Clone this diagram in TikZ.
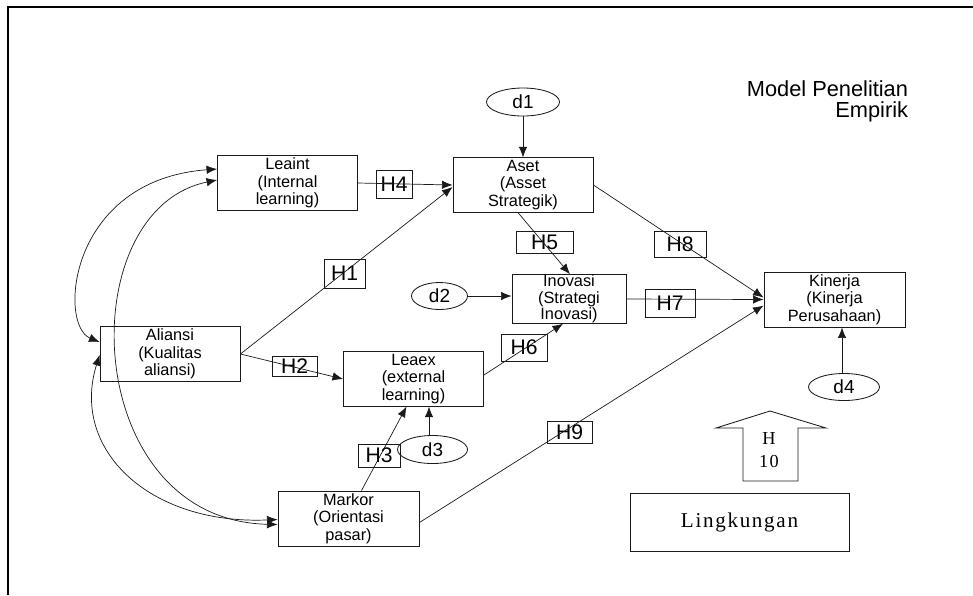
\documentclass[tikz,border=0pt]{standalone}
\usepackage{fontspec}
\setmainfont{Liberation Sans}
\newfontfamily\lingkserif{Liberation Serif}
\usepackage{xcolor}
\usepackage{tikz}
\usetikzlibrary{positioning, shapes.geometric, arrows.meta, calc}
\definecolor{dgink}{HTML}{1A1A1A}
\newcommand{\boxfont}{\fontsize{11.6}{12.4}\selectfont}
\newcommand{\hypfont}{\fontsize{15}{15}\selectfont}
\newcommand{\distfont}{\fontsize{13.5}{13.5}\selectfont}
\newcommand{\titlefont}{\fontsize{15.5}{15}\selectfont}

\begin{document}
\begin{tikzpicture}[
  x=0.025cm, y=-0.025cm,
  box/.style={draw=dgink, line width=0.6pt, align=center, minimum width=3.5cm, minimum height=1.36cm, inner sep=0pt, font=\boxfont},
  dist/.style={draw=dgink, ellipse, line width=0.6pt, inner sep=0pt, font=\distfont},
  hyp/.style={draw=dgink, line width=0.6pt, inner sep=0pt, font=\hypfont},
  arr/.style={-{Latex[length=7.5pt,width=6pt]}, line width=0.5pt, dgink},
  cov/.style={{Latex[length=7.5pt,width=6pt]}-{Latex[length=7.5pt,width=6pt]}, line width=0.5pt, dgink}
]
  \useasboundingbox (0,0) rectangle (973,595);
  \draw[line width=1.5pt, black] (973,7) -- (8,7) -- (8,595);

  \node[align=right, anchor=east, font=\titlefont] (title) at (913,101) {Model Penelitian\\Empirik};

  \node[box] (leaint) at (287.5,183) {Leaint\\(Internal\\learning)};
  \node[box] (aset) at (523,185) {Aset\\(Asset\\Strategik)};
  \node[box] (aliansi) at (170,354) {Aliansi\\(Kualitas\\aliansi)};
  \node[box] (leaex) at (413.5,379) {Leaex\\(external\\learning)};
  \node[box, minimum width=2.85cm, minimum height=1.2cm, font=\fontsize{11.6}{11.9}\selectfont] (inovasi) at (569,299) {Inovasi\\(Strategi\\Inovasi)};
  \node[box, minimum width=3.525cm, minimum height=1.375cm] (kinerja) at (834.5,299.5) {Kinerja\\(Kinerja\\Perusahaan)};
  \node[box, minimum width=3.525cm, minimum height=1.375cm] (markor) at (348.5,518.5) {Markor\\(Orientasi\\pasar)};
  \node[box, minimum width=5.475cm, minimum height=1.45cm, font=\lingkserif\fontsize{15}{15}\selectfont\addfontfeature{LetterSpace=8}] (lingk) at (739.5,522) {Lingkungan};

  \node[dist, minimum width=1.825cm, minimum height=0.7cm] (d1) at (523,102) {d1};
  \node[dist, minimum width=1.4cm, minimum height=0.675cm] (d2) at (439.5,296) {d2};
  \node[dist, minimum width=1.75cm, minimum height=0.7cm] (d3) at (432.5,449.5) {d3};
  \node[dist, minimum width=1.775cm, minimum height=0.675cm] (d4) at (844,387) {d4};

  \node[hyp, minimum width=1.025cm, minimum height=0.725cm] (h1) at (344.5,273.5) {H1};
  \node[hyp, minimum width=1.125cm, minimum height=0.5cm] (h2) at (294.5,366) {H2};
  \node[hyp, minimum width=1.05cm, minimum height=0.575cm] (h3) at (379,455.5) {H3};
  \node[hyp, minimum width=0.9cm, minimum height=0.7cm] (h4) at (394,184) {H4};
  \node[hyp, minimum width=1.425cm, minimum height=0.55cm] (h5) at (544.5,242) {H5};
  \node[hyp, minimum width=1.15cm, minimum height=0.675cm] (h6) at (524,347.5) {H6};
  \node[hyp, minimum width=1.25cm, minimum height=0.7cm] (h7) at (670,303) {H7};
  \node[hyp, minimum width=1.3cm, minimum height=0.65cm] (h8) at (680,244) {H8};
  \node[hyp, minimum width=1.125cm, minimum height=0.55cm] (h9) at (569.5,432) {H9};

  \draw[line width=0.6pt, dgink] (743,481) -- (743,428) -- (716,428) -- (770,411) -- (826,428) -- (798,428) -- (798,481) -- cycle;
  \node[align=center, font=\lingkserif\fontsize{13}{16}\selectfont\addfontfeature{LetterSpace=8}] (h10) at (769,450) {H\\10};

  \draw[arr] (d1) -- (aset);
  \draw[arr] (leaint.east) -- (aset.west);
  \draw[arr] (aliansi.east) -- ($(aset.west)+(0,2)$);
  \draw[arr] (aliansi.east) -- (leaex.west);
  \draw[arr] ($(aset.south)+(-5,0)$) -- ($(inovasi.north)+(1,0)$);
  \draw[arr] (aset.east) -- ($(kinerja.west)+(0,-2)$);
  \draw[arr] (d2.east) -- (inovasi.west |- d2.east);
  \draw[arr] (inovasi.east) -- (kinerja.west);
  \draw[arr] ($(leaex.east)+(0,-4)$) -- ($(inovasi.south)+(-6,0)$);
  \draw[arr] (d3.north -| 429,0) -- (leaex.south -| 429,0);
  \draw[arr] ($(markor.north)+(13,0)$) -- ($(leaex.south)+(-7,0)$);
  \draw[arr] ($(markor.east)+(0,4)$) -- ($(kinerja.west)+(0,6)$);
  \draw[arr] (d4.north -| 842,0) -- (kinerja.south -| 842,0);

  \draw[cov] ($(leaint.west)+(0,-14)$) .. controls (68,180) and (58,325) .. ($(aliansi.west)+(0,-12)$);
  \draw[cov] ($(leaint.west)+(0,-3)$) .. controls (70,210) and (80,520) .. ($(markor.west)+(0,6)$);
  \draw[cov] ($(aliansi.west)+(0,1)$) .. controls (70,450) and (150,525) .. ($(markor.west)+(0,1)$);
\end{tikzpicture}
\end{document}
